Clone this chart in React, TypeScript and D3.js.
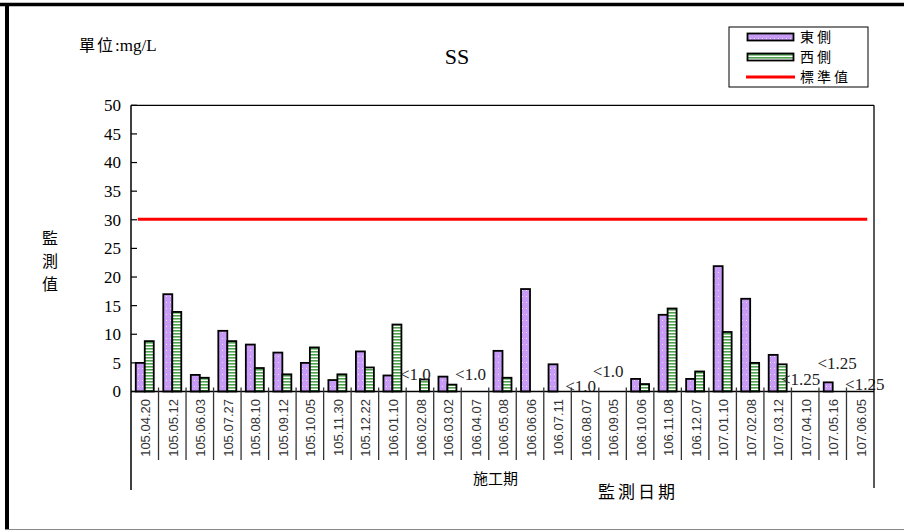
import { useEffect, useRef } from "react";
import * as d3 from "d3";

// Monitoring dates (ROC calendar)
const dates = [
  "105.04.20", "105.05.12", "105.06.03", "105.07.27", "105.08.10", "105.09.12",
  "105.10.05", "105.11.30", "105.12.22", "106.01.10", "106.02.08", "106.03.02",
  "106.04.07", "106.05.08", "106.06.06", "106.07.11", "106.08.07", "106.09.05",
  "106.10.06", "106.11.08", "106.12.07", "107.01.10", "107.02.08", "107.03.12",
  "107.04.10", "107.05.16", "107.06.05",
];

// SS, mg/L (null = below detection / not plotted)
const eastValues = [
  5.0, 17.0, 2.9, 10.6, 8.2, 6.8, 5.0, 2.0, 7.0, 2.8, null, 2.6, null, 7.1,
  17.9, 4.75, null, null, 2.2, 13.4, 2.2, 21.9, 16.2, 6.4, null, 1.6, null,
];
const westValues = [
  8.8, 13.9, 2.4, 8.8, 4.1, 3.0, 7.7, 3.0, 4.2, 11.7, 2.1, 1.2, null, 2.4,
  null, null, null, null, 1.3, 14.5, 3.5, 10.4, 5.0, 4.75, null, null, null,
];

const standardValue = 30;
const yTicks = [0, 5, 10, 15, 20, 25, 30, 35, 40, 45, 50];

// below-detection labels: date, side, text, level (mg/L of the text baseline)
const detectionNotes = [
  { date: "106.02.08", side: "east", text: "<1.0", level: 2.0 },
  { date: "106.04.07", side: "east", text: "<1.0", level: 2.0 },
  { date: "106.08.07", side: "east", text: "<1.0", level: -0.1 },
  { date: "106.09.05", side: "east", text: "<1.0", level: 2.6 },
  { date: "107.04.10", side: "east", text: "<1.25", level: 1.1 },
  { date: "107.05.16", side: "west", text: "<1.25", level: 3.9 },
  { date: "107.06.05", side: "west", text: "<1.25", level: 0.2 },
];

const SERIF = "Liberation Serif, Times New Roman, serif";
const SANS = "Liberation Sans, Arial, sans-serif";
const CJK = "Noto Sans CJK TC, Noto Sans CJK SC, sans-serif";

const App = () => {
  const ref = useRef(null);

  useEffect(() => {
    if (!ref.current) return;
    d3.select(ref.current).selectAll("*").remove();

    const W = 904;
    const H = 531;
    const left = 131;
    const right = 874;
    const top = 105.3;
    const bottom = 391.5;

    const svg = d3
      .select(ref.current)
      .append("svg")
      .attr("width", W)
      .attr("height", H)
      .style("position", "absolute")
      .style("left", "0px")
      .style("top", "0px")
      .style("background", "#fff");

    // patterns
    const defs = svg.append("defs");
    const pEast = defs
      .append("pattern")
      .attr("id", "eastFill")
      .attr("patternUnits", "userSpaceOnUse")
      .attr("width", 4)
      .attr("height", 6);
    pEast.append("rect").attr("width", 4).attr("height", 6).attr("fill", "#c89cf6");
    pEast.append("rect").attr("x", 2).attr("y", 2).attr("width", 1).attr("height", 1).attr("fill", "#ece0fc");

    const pWest = defs
      .append("pattern")
      .attr("id", "westFill")
      .attr("patternUnits", "userSpaceOnUse")
      .attr("width", 4)
      .attr("height", 3);
    pWest.append("rect").attr("width", 4).attr("height", 3).attr("fill", "#ffffff");
    pWest.append("rect").attr("y", 0).attr("width", 4).attr("height", 1.6).attr("fill", "#4ea24e");

    // outer frame
    svg.append("line").attr("x1", 0).attr("x2", W).attr("y1", 4.5).attr("y2", 4.5)
      .attr("stroke", "#000").attr("stroke-width", 3.5);
    svg.append("line").attr("x1", 7).attr("x2", 7).attr("y1", 3).attr("y2", 529)
      .attr("stroke", "#000").attr("stroke-width", 4);
    svg.append("line").attr("x1", 5).attr("x2", W).attr("y1", 529.5).attr("y2", 529.5)
      .attr("stroke", "#888").attr("stroke-width", 1.2);

    const x = d3.scaleBand().domain(dates).range([left, right]).paddingInner(0);
    const side = d3
      .scaleBand()
      .domain(["east", "west"])
      .range([0, x.bandwidth()])
      .paddingInner(0)
      .paddingOuter(0.53);
    const y = d3.scaleLinear().domain([0, 50]).range([bottom, top]);

    // title + unit
    svg.append("text").attr("x", 457).attr("y", 64).attr("text-anchor", "middle")
      .attr("font-family", SERIF).attr("font-size", 22).text("SS");
    const unit = svg.append("text").attr("x", 79).attr("y", 51).attr("font-size", 16);
    unit.append("tspan").attr("font-family", CJK).attr("letter-spacing", 2).text("單位");
    unit.append("tspan").attr("font-family", SERIF).attr("font-size", 17).text(":mg/L");

    // y axis title (stacked)
    ["監", "測", "值"].forEach((ch, i) => {
      svg.append("text").attr("x", 50).attr("y", 244 + i * 23).attr("text-anchor", "middle")
        .attr("font-family", CJK).attr("font-size", 16).text(ch);
    });

    // y ticks
    const yAxis = svg.append("g");
    yTicks.forEach((t) => {
      yAxis.append("line").attr("x1", left).attr("x2", left + 6).attr("y1", y(t)).attr("y2", y(t))
        .attr("stroke", "#000").attr("stroke-width", 1.2);
      yAxis.append("text").attr("x", 121).attr("y", y(t)).attr("dy", "0.35em")
        .attr("text-anchor", "end").attr("font-family", SERIF).attr("font-size", 17)
        .text(t);
    });

    // bars
    const bw = side.bandwidth();
    const drawBars = (vals, key, fill) => {
      svg.append("g")
        .selectAll("rect")
        .data(dates.map((d, i) => ({ d, v: vals[i] })).filter((o) => o.v != null))
        .enter()
        .append("rect")
        .attr("x", (o) => x(o.d) + side(key))
        .attr("y", (o) => y(o.v))
        .attr("width", bw)
        .attr("height", (o) => y(0) - y(o.v))
        .attr("fill", fill)
        .attr("stroke", "#000")
        .attr("stroke-width", 1.8);
    };
    drawBars(eastValues, "east", "url(#eastFill)");
    drawBars(westValues, "west", "url(#westFill)");

    // detection notes
    svg.append("g")
      .selectAll("text")
      .data(detectionNotes)
      .enter()
      .append("text")
      .attr("x", (n) => x(n.date) + side(n.side) + bw / 2)
      .attr("y", (n) => y(n.level))
      .attr("text-anchor", "middle")
      .attr("font-family", SERIF)
      .attr("font-size", 17)
      .attr("fill", "#222")
      .text((n) => n.text);

    // standard line
    const line = d3.line().x((d) => d[0]).y((d) => d[1]);
    svg.append("path")
      .attr("d", line([
        [x(dates[0]) + x.bandwidth() / 2 - 7, y(standardValue) - 0.6],
        [x(dates[dates.length - 1]) + x.bandwidth() / 2 + 7, y(standardValue) - 0.6],
      ]))
      .attr("stroke", "#ff0000").attr("stroke-width", 3).attr("fill", "none");

    // plot frame
    svg.append("line").attr("x1", left).attr("x2", right).attr("y1", top).attr("y2", top)
      .attr("stroke", "#000").attr("stroke-width", 1.3);
    svg.append("line").attr("x1", left).attr("x2", left).attr("y1", top).attr("y2", 490)
      .attr("stroke", "#000").attr("stroke-width", 1.5);
    svg.append("line").attr("x1", right).attr("x2", right).attr("y1", top).attr("y2", 488)
      .attr("stroke", "#000").attr("stroke-width", 1.3);
    svg.append("line").attr("x1", left).attr("x2", right).attr("y1", bottom).attr("y2", bottom)
      .attr("stroke", "#000").attr("stroke-width", 1.5);

    // category separators and labels
    dates.slice(1).forEach((d) => {
      svg.append("line").attr("x1", x(d)).attr("x2", x(d)).attr("y1", bottom - 4).attr("y2", 460)
        .attr("stroke", "#333").attr("stroke-width", 1.3);
    });
    svg.append("g")
      .selectAll("text")
      .data(dates)
      .enter()
      .append("text")
      .attr("transform", (d) => `translate(${x(d) + x.bandwidth() / 2 + 1}, 399) rotate(-90)`)
      .attr("text-anchor", "end")
      .attr("dy", "0.35em")
      .attr("font-family", SANS)
      .attr("font-size", 13)
      .attr("fill", "#333")
      .text((d) => d);

    svg.append("text").attr("x", 473).attr("y", 484)
      .attr("font-family", CJK).attr("font-size", 15).text("施工期");
    svg.append("text").attr("x", 598).attr("y", 498).attr("letter-spacing", 3)
      .attr("font-family", CJK).attr("font-size", 17).text("監測日期");

    // legend
    const lg = svg.append("g");
    lg.append("rect").attr("x", 729).attr("y", 27).attr("width", 139).attr("height", 60)
      .attr("fill", "#fff").attr("stroke", "#000").attr("stroke-width", 1);
    lg.append("rect").attr("x", 747.5).attr("y", 33.5).attr("width", 46).attr("height", 7)
      .attr("fill", "url(#eastFill)").attr("stroke", "#000").attr("stroke-width", 1.8);
    lg.append("rect").attr("x", 747.5).attr("y", 53.5).attr("width", 46).attr("height", 7)
      .attr("fill", "url(#westFill)").attr("stroke", "#000").attr("stroke-width", 1.8);
    lg.append("line").attr("x1", 746).attr("x2", 795).attr("y1", 77).attr("y2", 77)
      .attr("stroke", "#ff0000").attr("stroke-width", 3);
    [["東側", 42], ["西側", 62], ["標準值", 82]].forEach(([t, ty]) => {
      lg.append("text").attr("x", 800).attr("y", ty).attr("letter-spacing", 3)
        .attr("font-family", CJK).attr("font-size", 14).text(t);
    });
  }, []);

  return <div ref={ref} style={{ width: 904, height: 531 }}></div>;
};

export default App;
